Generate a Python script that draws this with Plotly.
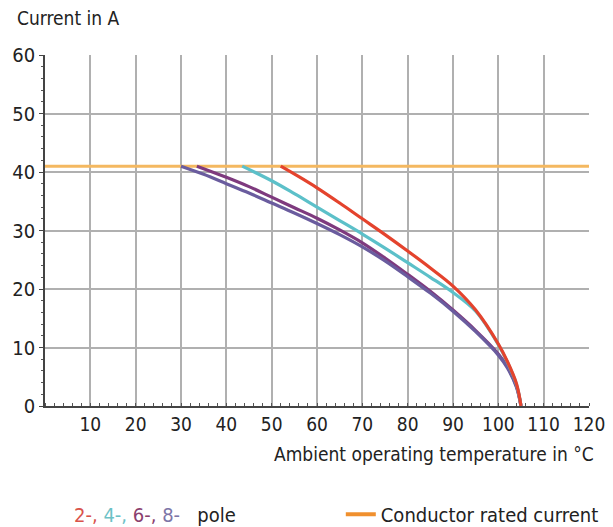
import plotly.graph_objects as go

# Data
rated_x = [0, 120]
rated_y = [41, 41]

pole2_x = [52, 56, 60, 65, 70, 75, 80, 85, 90, 95, 100, 102, 104, 105]
pole2_y = [41, 39.2, 37.3, 34.7, 32.0, 29.3, 26.5, 23.6, 20.5, 16.4, 10.6, 7.6, 3.8, 0]

pole4_x = [43.5, 50, 55, 60, 65, 70, 75, 80, 85, 90, 95, 100, 102, 104, 105]
pole4_y = [41, 38.5, 36.3, 34.0, 31.7, 29.4, 27.0, 24.5, 22.0, 19.4, 16.2, 10.5, 7.5, 3.7, 0]

pole6_x = [33.5, 40, 45, 50, 55, 60, 65, 70, 75, 80, 85, 90, 95, 100, 102, 104, 105]
pole6_y = [41, 39.1, 37.5, 35.7, 33.9, 32.1, 30.1, 27.9, 25.3, 22.5, 19.6, 16.4, 12.9, 8.9, 6.7, 3.4, 0]

pole8_x = [30, 35, 40, 45, 50, 55, 60, 65, 70, 75, 80, 85, 90, 95, 100, 102, 104, 105]
pole8_y = [41, 39.6, 38.0, 36.4, 34.7, 33.0, 31.2, 29.3, 27.2, 24.8, 22.1, 19.3, 16.2, 12.7, 8.7, 6.5, 3.2, 0]

x_ticks = [10, 20, 30, 40, 50, 60, 70, 80, 90, 100, 110, 120]
y_ticks = [0, 10, 20, 30, 40, 50, 60]

FONT = "DejaVu Sans Condensed, Liberation Sans Narrow, Roboto, sans-serif"

fig = go.Figure()

fig.add_trace(go.Scatter(x=rated_x, y=rated_y, mode="lines",
                         line=dict(color="#f4b860", width=3), showlegend=False))
fig.add_trace(go.Scatter(x=pole6_x, y=pole6_y, mode="lines", line_shape="spline",
                         line=dict(color="#7e3a7e", width=3.2), showlegend=False))
fig.add_trace(go.Scatter(x=pole8_x, y=pole8_y, mode="lines", line_shape="spline",
                         line=dict(color="#6a5c9e", width=3.2), showlegend=False))
fig.add_trace(go.Scatter(x=pole4_x, y=pole4_y, mode="lines", line_shape="spline",
                         line=dict(color="#5cc0c9", width=3.2), showlegend=False))
fig.add_trace(go.Scatter(x=pole2_x, y=pole2_y, mode="lines", line_shape="spline",
                         line=dict(color="#e4432d", width=3.2), showlegend=False))
# legend-only entry for the rated current line
fig.add_trace(go.Scatter(x=[None], y=[None], mode="lines", name="Conductor rated current",
                         line=dict(color="#f0902e", width=4), showlegend=True))

fig.update_layout(
    width=613, height=527,
    margin=dict(l=45, r=24, t=55, b=121, autoexpand=False),
    paper_bgcolor="white", plot_bgcolor="white",
    font=dict(family=FONT, size=19, color="#222"),
    showlegend=True,
    legend=dict(orientation="h", xref="container", yref="container",
                x=0.985, xanchor="right", y=0.024, yanchor="middle",
                font=dict(size=20, color="#222"), bgcolor="rgba(0,0,0,0)",
                itemwidth=30),
    xaxis=dict(range=[0, 120], tickvals=x_ticks, showgrid=True, gridcolor="#b0b0b0",
               gridwidth=1.5, zeroline=False, showline=True, linecolor="#444", linewidth=1.5,
               ticks="", tickfont=dict(size=19),
               minor=dict(dtick=2, ticks="inside", ticklen=3, tickcolor="#555", showgrid=False)),
    yaxis=dict(range=[0, 60], tickvals=y_ticks, showgrid=True, gridcolor="#b0b0b0",
               gridwidth=1.5, zeroline=False, showline=True, linecolor="#444", linewidth=1.5,
               ticks="outside", ticklen=4, tickcolor="#444", tickfont=dict(size=20),
               minor=dict(dtick=2, ticks="outside", ticklen=2, tickcolor="#555", showgrid=False)),
    annotations=[
        dict(text="Current in A", xref="paper", yref="paper", x=-0.055, y=1.105,
             xanchor="left", yanchor="middle", showarrow=False,
             font=dict(size=19, color="#222")),
        dict(text="Ambient operating temperature in °C", xref="paper", yref="paper",
             x=1.012, y=0, yshift=-48, xanchor="right", yanchor="middle", showarrow=False,
             font=dict(size=19, color="#222")),
        dict(text="<span style='color:#d9534a'>2-,</span> <span style='color:#6cc1c6'>4-,</span> "
                  "<span style='color:#8b3f6e'>6-,</span> <span style='color:#7d76a7'>8-</span>"
                  "&nbsp;&nbsp;&nbsp;pole",
             xref="paper", yref="paper", x=0.05, y=-0.31, xanchor="left",
             yanchor="middle", showarrow=False, font=dict(size=20, color="#222")),
    ],
)

fig.write_html("out.html", config={"displayModeBar": False},
               post_script="document.body.style.margin='0';document.body.style.overflow='hidden';")
